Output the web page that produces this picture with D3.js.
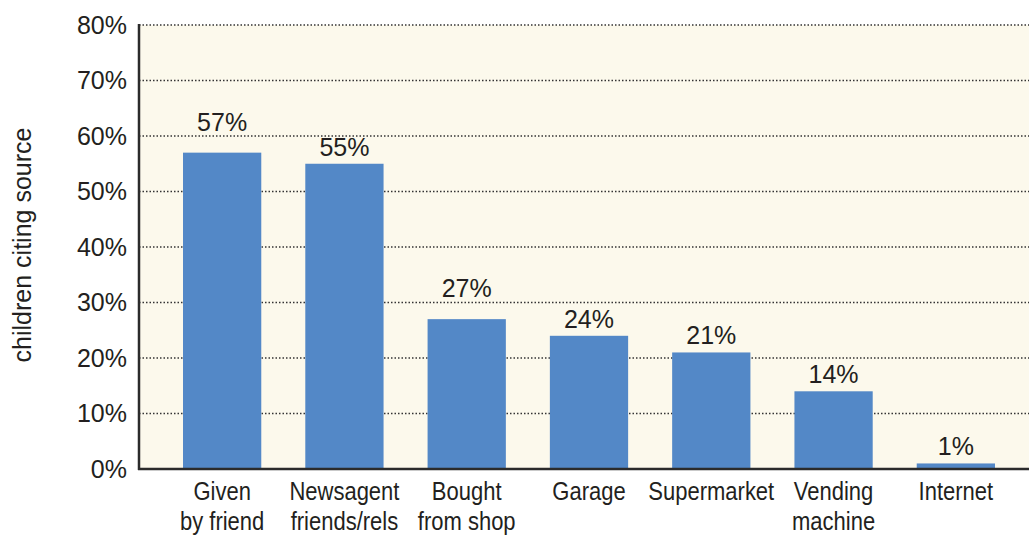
<!DOCTYPE html>
<html>
<head>
<meta charset="utf-8">
<script src="https://cdn.jsdelivr.net/npm/d3@7"></script>
<style>
  body { margin: 0; background: #fff; }
  text { fill: #231f20; }
</style>
</head>
<body>
<svg id="chart" width="1029" height="537"></svg>
<script>
var categories = [["Given", "by friend"], ["Newsagent", "friends/rels"], ["Bought", "from shop"], ["Garage"], ["Supermarket"], ["Vending", "machine"], ["Internet"]];
var values = [57, 55, 27, 24, 21, 14, 1];
var yTicks = [0, 10, 20, 30, 40, 50, 60, 70, 80];

var svg = d3.select("#chart");
var plotLeft = 139, plotRight = 1029, plotTop = 25, plotBottom = 469;

var x = d3.scaleBand().domain(d3.range(values.length)).range([161, 1017]).paddingInner(0.36).paddingOuter(0.18);
var y = d3.scaleLinear().domain([0, 80]).range([plotBottom, plotTop]);

// plot background
svg.append("rect").attr("x", plotLeft).attr("y", plotTop).attr("width", plotRight - plotLeft).attr("height", plotBottom - plotTop).attr("fill", "#fcf9ec");

// dotted gridlines
svg.append("g").selectAll("line").data(yTicks.filter(function (d) { return d > 0; })).enter().append("line")
  .attr("x1", plotLeft).attr("x2", plotRight)
  .attr("y1", function (d) { return y(d); }).attr("y2", function (d) { return y(d); })
  .attr("stroke", "#333").attr("stroke-width", 1.6).attr("stroke-dasharray", "1.5,2");

// bars
svg.append("g").selectAll("rect").data(values).enter().append("rect")
  .attr("x", function (d, i) { return x(i); })
  .attr("y", function (d) { return y(d); })
  .attr("width", x.bandwidth())
  .attr("height", function (d) { return plotBottom - y(d); })
  .attr("fill", "#5388c7");

// axes
var yAxis = d3.axisLeft(y).tickValues(yTicks).tickFormat(function (d) { return d + "%"; }).tickSize(0).tickPadding(12);
var ya = svg.append("g").attr("transform", "translate(" + plotLeft + ",0)").call(yAxis);
ya.select(".domain").remove();
ya.selectAll("text").attr("font-family", "Liberation Sans, Arial, sans-serif").attr("font-size", 25).style("fill", "#231f20");

svg.append("line").attr("x1", plotLeft).attr("x2", plotLeft).attr("y1", plotTop - 1).attr("y2", plotBottom + 1).attr("stroke", "#2b2b2b").attr("stroke-width", 2.5);
svg.append("line").attr("x1", plotLeft - 1).attr("x2", plotRight).attr("y1", plotBottom).attr("y2", plotBottom).attr("stroke", "#2b2b2b").attr("stroke-width", 2.5);

// value labels, lifted when a gridline would cross them
svg.append("g").selectAll("text").data(values).enter().append("text")
  .attr("x", function (d, i) { return x(i) + x.bandwidth() / 2; })
  .attr("y", function (d) {
    var base = y(d) - 8;
    var hit = yTicks.some(function (t) { return t > 0 && y(t) < base && y(t) > base - 18; });
    return hit ? base - 14 : base;
  })
  .attr("text-anchor", "middle")
  .attr("font-family", "Liberation Sans, Arial, sans-serif").attr("font-size", 25)
  .text(function (d) { return d + "%"; });

// category labels (condensed look)
var cat = svg.append("g").selectAll("text").data(categories).enter().append("text")
  .attr("text-anchor", "middle")
  .attr("font-family", "Liberation Sans Narrow, Arial Narrow, Liberation Sans, sans-serif").attr("font-size", 25)
  .attr("transform", function (d, i) { return "translate(" + (x(i) + x.bandwidth() / 2) + ",500) scale(0.88,1)"; });
cat.selectAll("tspan").data(function (d) { return d; }).enter().append("tspan")
  .attr("x", 0).attr("dy", function (d, j) { return j === 0 ? 0 : 30; })
  .text(function (d) { return d; });

// y axis title
svg.append("text").attr("transform", "translate(31,245) rotate(-90)")
  .attr("text-anchor", "middle")
  .attr("font-family", "Liberation Sans, Arial, sans-serif").attr("font-size", 25)
  .text("children citing source");
</script>
</body>
</html>
